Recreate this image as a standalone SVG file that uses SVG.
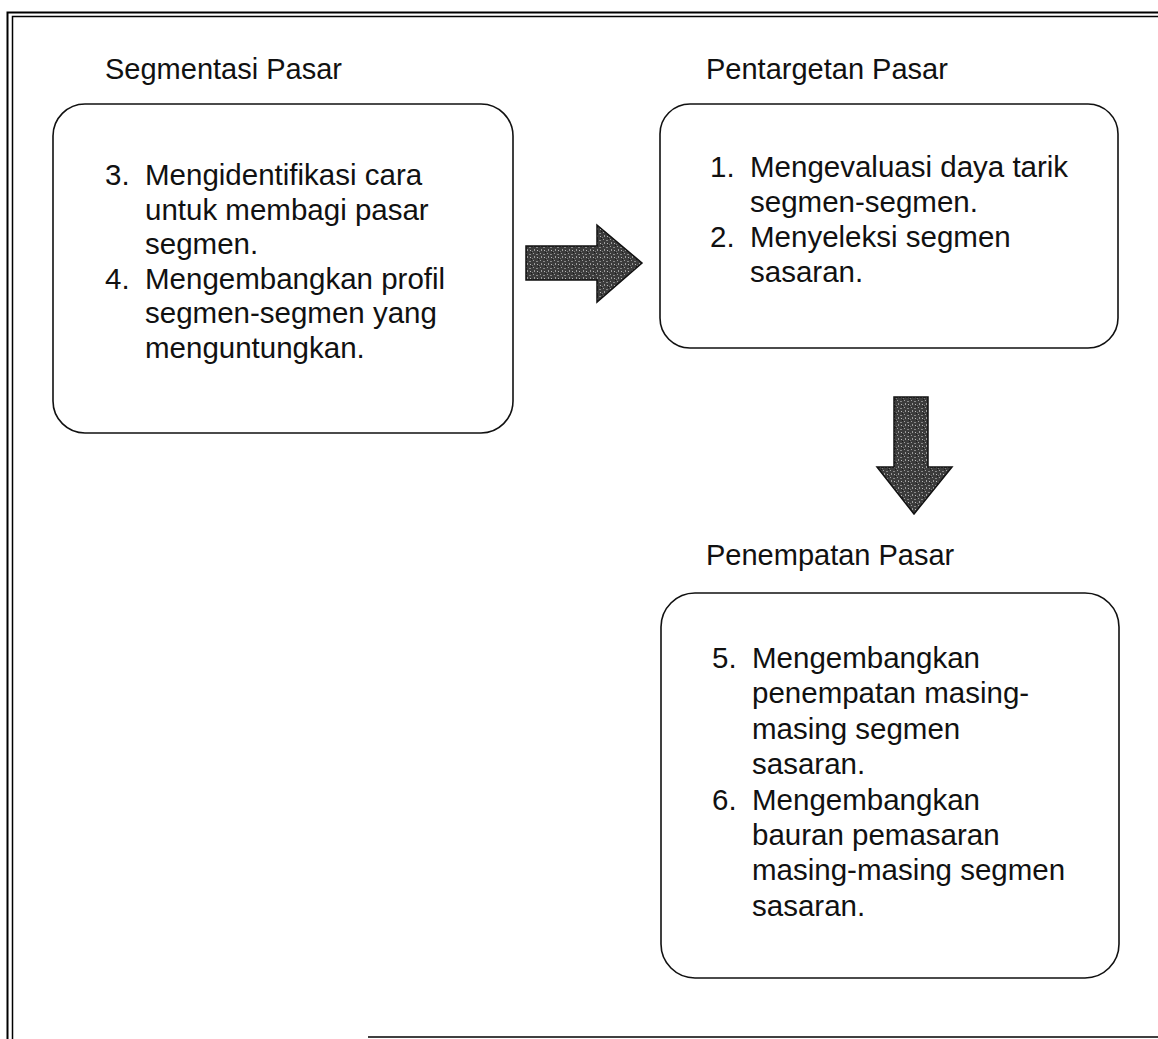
<svg xmlns="http://www.w3.org/2000/svg" width="1158" height="1039" viewBox="0 0 1158 1039">
  <style>
    .frame { fill: none; stroke: #000; }
    .box { fill: #fff; stroke: #111; stroke-width: 1.6; }
    .title { font-family: "Liberation Sans", Arial, sans-serif; font-size: 29px; fill: #111; }
    .item { font-family: "Liberation Sans", Arial, sans-serif; font-size: 29.5px; fill: #111; }
    .arrow { fill: url(#stipple); stroke: #111; stroke-width: 1.5; stroke-linejoin: miter; }
  </style>
  <defs>
    <!-- halftone-like speckled fill for the block arrows -->
    <pattern id="stipple" width="7" height="7" patternUnits="userSpaceOnUse">
      <rect width="7" height="7" fill="#3c3c3c"/>
      <rect x="1" y="1" width="1" height="1" fill="#a0a0a0"/>
      <rect x="4" y="2" width="2" height="1" fill="#888"/>
      <rect x="2" y="4" width="1" height="2" fill="#999"/>
      <rect x="5" y="5" width="1" height="1" fill="#bbb"/>
      <rect x="0" y="6" width="1" height="1" fill="#777"/>
      <rect x="6" y="0" width="1" height="1" fill="#1a1a1a"/>
    </pattern>
  </defs>
  <rect width="1158" height="1039" fill="#fff"/>

  <!-- page frame (double rule) -->
  <g id="frame">
    <path class="frame" stroke-width="2" d="M7.5,1039 V12.5 H1158"/>
    <path class="frame" stroke-width="1.5" d="M12.5,1039 V16.5 H1158"/>
    <path class="frame" stroke-width="1.5" d="M368,1037 H1158"/>
  </g>

  <!-- market segmentation -->
  <g id="segmentasi">
    <text class="title" x="105" y="79">Segmentasi Pasar</text>
    <rect class="box" x="53" y="104" width="460" height="329" rx="32" ry="32"/>
    <text class="item" x="105" y="185">3.</text>
    <text class="item" x="145" y="185">Mengidentifikasi cara</text>
    <text class="item" x="145" y="220">untuk membagi pasar</text>
    <text class="item" x="145" y="254">segmen.</text>
    <text class="item" x="105" y="289">4.</text>
    <text class="item" x="145" y="289">Mengembangkan profil</text>
    <text class="item" x="145" y="323">segmen-segmen yang</text>
    <text class="item" x="145" y="358">menguntungkan.</text>
  </g>

  <!-- market targeting -->
  <g id="pentargetan">
    <text class="title" x="706" y="79">Pentargetan Pasar</text>
    <rect class="box" x="660" y="104" width="458" height="244" rx="30" ry="30"/>
    <text class="item" x="710" y="177">1.</text>
    <text class="item" x="750" y="177">Mengevaluasi daya tarik</text>
    <text class="item" x="750" y="212">segmen-segmen.</text>
    <text class="item" x="710" y="247">2.</text>
    <text class="item" x="750" y="247">Menyeleksi segmen</text>
    <text class="item" x="750" y="282">sasaran.</text>
  </g>

  <!-- market positioning -->
  <g id="penempatan">
    <text class="title" x="706" y="565">Penempatan Pasar</text>
    <rect class="box" x="661" y="593" width="458" height="385" rx="34" ry="34"/>
    <text class="item" x="712" y="668">5.</text>
    <text class="item" x="752" y="668">Mengembangkan</text>
    <text class="item" x="752" y="703">penempatan masing-</text>
    <text class="item" x="752" y="739">masing segmen</text>
    <text class="item" x="752" y="774">sasaran.</text>
    <text class="item" x="712" y="810">6.</text>
    <text class="item" x="752" y="810">Mengembangkan</text>
    <text class="item" x="752" y="845">bauran pemasaran</text>
    <text class="item" x="752" y="880">masing-masing segmen</text>
    <text class="item" x="752" y="916">sasaran.</text>
  </g>

  <!-- block arrows between stages -->
  <g id="connectors">
    <path class="arrow" d="M526,246 H597 V225 L642,263 L597,302 V280 H526 Z"/>
    <path class="arrow" d="M894,397 H928 V467 H952 L914,514 L877,467 H894 Z"/>
  </g>
</svg>
